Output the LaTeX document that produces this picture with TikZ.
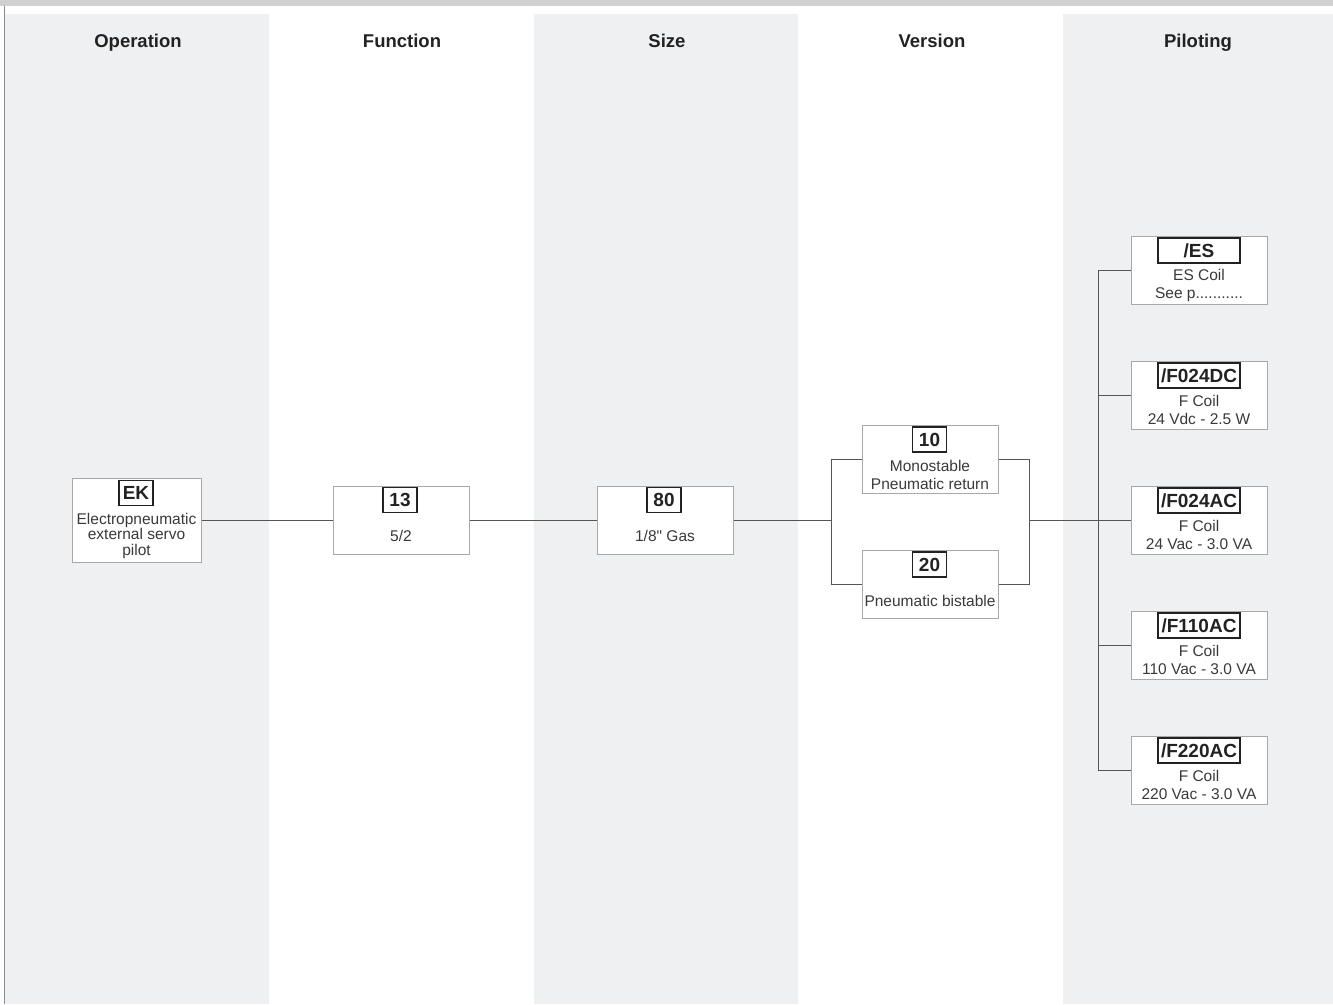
\documentclass[tikz,border=0pt]{standalone}
\usepackage{fontspec}
\setmainfont{Liberation Sans}[Ligatures=TeXOff]
\definecolor{bandgray}{HTML}{EFF0F2}
\definecolor{topgray}{HTML}{D0D0D2}
\definecolor{boxgray}{HTML}{A8A8A8}
\definecolor{linegray}{HTML}{555555}
\definecolor{textgray}{HTML}{3A3A3A}
\definecolor{darktext}{HTML}{222222}
\begin{document}
\begin{tikzpicture}[x=1pt,y=-1pt,
  box/.style={draw=boxgray, line width=1pt, fill=white, minimum width=136pt, minimum height=68pt, inner sep=0pt},
  code/.style={draw=darktext, line width=1.3pt, fill=white, font=\bfseries\fontsize{19}{19}\selectfont, text=darktext, inner sep=0pt, minimum height=25pt, minimum width=34pt},
  wcode/.style={code, minimum width=82pt},
  desc/.style={font=\fontsize{15.5}{18}\selectfont, text=textgray, align=center, inner sep=0pt},
  head/.style={font=\bfseries\fontsize{18.5}{18.5}\selectfont, text=darktext, inner sep=0pt, anchor=base},
  conn/.style={draw=linegray, line width=1pt}]
\useasboundingbox (0,0) rectangle (1333,1004);
% background
\fill[topgray] (0,0) rectangle (1333,5.5);
\fill[bandgray] (5,14) rectangle (269,1004);
\fill[bandgray] (534,14) rectangle (798,1004);
\fill[bandgray] (1063,14) rectangle (1333,1004);
\draw[color=black!45, line width=1pt] (4.5,5.5) -- (4.5,1004);
% column headings
\node[head] (hop) at (138,47.5) {Operation};
\node[head] (hfu) at (402,47.5) {Function};
\node[head] (hsi) at (667,47.5) {Size};
\node[head] (hve) at (932,47.5) {Version};
\node[head] (hpi) at (1198,47.5) {Piloting};
% Operation
\node[box, minimum width=129pt, minimum height=84pt] (ek) at (136.5,520) {};
\node[code] (ekc) at (136,493) {EK};
\node[desc, font=\fontsize{15.5}{15.5}\selectfont] (ekd) at (136.5,535.5) {Electropneumatic\\external servo\\pilot};
% Function
\node[box] (f13) at (401,520) {};
\node[code] (f13c) at (400,500) {13};
\node[desc] (f13d) at (401,536) {5/2};
% Size
\node[box] (s80) at (665,520) {};
\node[code] (s80c) at (664,500) {80};
\node[desc] (s80d) at (665,536) {1/8" Gas};
% Version
\node[box] (v10) at (930,459) {};
\node[code] (v10c) at (929.5,439.5) {10};
\node[desc] (v10d) at (930,475) {Monostable\\Pneumatic return};
\node[box] (v20) at (930,584) {};
\node[code] (v20c) at (929.5,564.5) {20};
\node[desc] (v20d) at (930,601) {Pneumatic bistable};
% Piloting
\node[box] (pes) at (1199,270) {};
\node[wcode] (pesc) at (1199,250.5) {/ES};
\node[desc] (pesd) at (1199,285) {ES Coil\\See p...........};
\node[box] (pdc) at (1199,395) {};
\node[wcode] (pdcc) at (1199,375.5) {/F024DC};
\node[desc] (pdcd) at (1199,410) {F Coil\\24 Vdc - 2.5 W};
\node[box] (pac) at (1199,520) {};
\node[wcode] (pacc) at (1199,500.5) {/F024AC};
\node[desc] (pacd) at (1199,535) {F Coil\\24 Vac - 3.0 VA};
\node[box] (p110) at (1199,645) {};
\node[wcode] (p110c) at (1199,625.5) {/F110AC};
\node[desc] (p110d) at (1199,660) {F Coil\\110 Vac - 3.0 VA};
\node[box] (p220) at (1199,770) {};
\node[wcode] (p220c) at (1199,750.5) {/F220AC};
\node[desc] (p220d) at (1199,785) {F Coil\\220 Vac - 3.0 VA};
% connectors
\coordinate (vl) at (831,520);
\coordinate (vr) at (1029,520);
\coordinate (pb) at (1098,520);
\draw[conn] (ek.east) -- (f13.west);
\draw[conn] (f13.east) -- (s80.west);
\draw[conn] (s80.east) -- (vl);
\draw[conn] (v10.west) -| (vl);
\draw[conn] (v20.west) -| (vl);
\draw[conn] (v10.east) -| (vr);
\draw[conn] (v20.east) -| (vr);
\draw[conn] (vr) -- (pb);
\draw[conn] (pes.west) -| (pb);
\draw[conn] (pdc.west) -| (pb);
\draw[conn] (pac.west) -- (pb);
\draw[conn] (p110.west) -| (pb);
\draw[conn] (p220.west) -| (pb);
\end{tikzpicture}
\end{document}
